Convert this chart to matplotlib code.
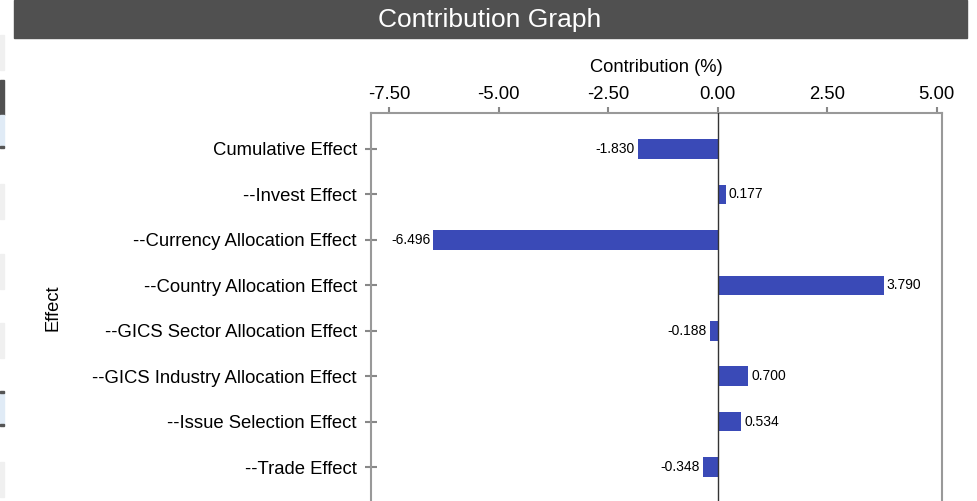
import matplotlib.pyplot as plt
from matplotlib.patches import Rectangle

plt.rcParams['font.family'] = ['Liberation Sans', 'DejaVu Sans']

effects = ["Cumulative Effect", "--Invest Effect", "--Currency Allocation Effect",
           "--Country Allocation Effect", "--GICS Sector Allocation Effect",
           "--GICS Industry Allocation Effect", "--Issue Selection Effect",
           "--Trade Effect"]
contrib = [-1.830, 0.177, -6.496, 3.790, -0.188, 0.700, 0.534, -0.348]
xticks = [-7.5, -5.0, -2.5, 0.0, 2.5, 5.0]

W, H = 977, 501
fig = plt.figure(figsize=(W / 100, H / 100), dpi=100)

# title bar
fig.patches.append(Rectangle((14 / W, 1 - 38 / H), (967 - 14) / W, 38 / H,
                             transform=fig.transFigure, color='#505050', zorder=0))
fig.text(490 / W, 1 - 20 / H, "Contribution Graph", color='white', fontsize=19,
         ha='center', va='center')

# bits of page ui on the left edge
for y0, y1, c in [(35, 70, '#f0f0f0'), (80, 115, '#505050'), (115, 147, '#e0ebf6'),
                  (184, 219, '#f0f0f0'), (254, 289, '#f0f0f0'), (323, 358, '#f0f0f0'),
                  (392, 425, '#e0ebf6'), (462, 497, '#f0f0f0')]:
    fig.patches.append(Rectangle((0, 1 - y1 / H), 4 / W, (y1 - y0) / H,
                                 transform=fig.transFigure, color=c, zorder=0))
for y in [147, 392, 425]:
    fig.patches.append(Rectangle((0, 1 - (y + 1) / H), 4 / W, 2 / H,
                                 transform=fig.transFigure, color='#555555', zorder=0))

ax = fig.add_axes([370.7 / W, 1 - 503 / H, 571 / W, 390 / H])
pos = list(range(len(effects)))
ax.barh(pos, contrib, height=0.43, color='#3a4ab7', zorder=2)
ax.axvline(0, color='#333333', lw=1, zorder=3)

for p, v in zip(pos, contrib):
    if v >= 0:
        ax.text(v + 0.07, p, f"{v:.3f}", ha='left', va='center', fontsize=10)
    else:
        ax.text(v - 0.07, p, f"{v:.3f}", ha='right', va='center', fontsize=10)

ax.set_xlim(-7.925, 5.114)
ax.set_ylim(len(effects) - 0.21, -0.79)
ax.set_yticks(pos)
ax.set_yticklabels(effects, fontsize=13.3)
ax.set_xticks(xticks)
ax.set_xticklabels([f"{t:.2f}" for t in xticks], fontsize=13.3)
ax.xaxis.tick_top()
ax.xaxis.set_label_position('top')
ax.set_xlabel("Contribution (%)", fontsize=13.2, labelpad=10)
ax.set_ylabel("Effect", fontsize=13.2, labelpad=22)

for s in ['top', 'left', 'right']:
    ax.spines[s].set_color('#999999')
    ax.spines[s].set_linewidth(1.5)
ax.spines['bottom'].set_visible(False)
ax.tick_params(axis='x', colors='#888888', labelcolor='black', length=4, width=1.5, pad=3)
ax.tick_params(axis='y', colors='#888888', labelcolor='black', direction='inout',
               length=8, width=1.5, pad=6)

fig.savefig('out.png', dpi=100)
